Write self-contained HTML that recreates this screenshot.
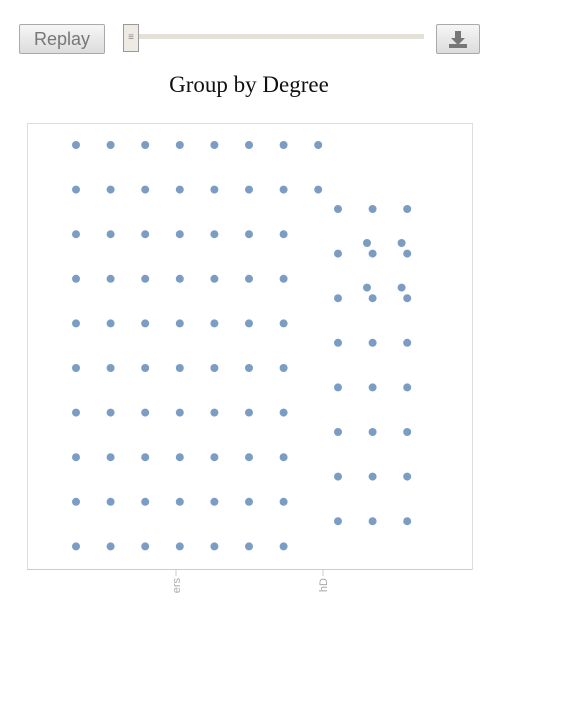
<!DOCTYPE html>
<html><head><meta charset="utf-8"><style>
body{margin:0;background:#fff;font-family:"Liberation Sans",sans-serif;}
#wrap{position:relative;width:566px;height:705px;}
.btn{position:absolute;border:1px solid #aaa;border-radius:2px;background:linear-gradient(#f6f6f6,#dcdcdc);color:#777;}
</style></head><body><div id="wrap">
<div class="btn" style="left:19px;top:24px;width:84px;height:28px;font-size:18px;line-height:28px;text-align:center;">Replay</div>
<div style="position:absolute;left:130px;top:34px;width:294px;height:5px;background:#e4e0da;"></div>
<div style="position:absolute;left:123px;top:24px;width:14px;height:26px;border:1px solid #999;background:#eeeae4;font-size:10px;color:#888;text-align:center;line-height:26px;">≡</div>
<div class="btn" style="left:436px;top:24px;width:42px;height:28px;">
<svg width="42" height="28"><path d="M18 6h6v7h4l-7 7-7-7h4z" fill="#777"/><rect x="12" y="19" width="18" height="4" fill="#777"/></svg></div>
<div style="position:absolute;left:0;width:498px;top:72px;text-align:center;font-family:'Liberation Serif',serif;font-size:23px;color:#111;">Group by Degree</div>
<svg id="chart" width="566" height="705" style="position:absolute;left:0;top:0"></svg>
</div>
<script>
const categories=["Masters","PhD"];
const counts=[72,28];
const tickLabels=["ers","hD"];
const svg=document.getElementById('chart');
const NS='http://www.w3.org/2000/svg';
function mk(t,a){const e=document.createElementNS(NS,t);for(const k in a)e.setAttribute(k,a[k]);svg.appendChild(e);return e;}
const frame=mk('rect',{x:27.5,y:123.5,width:445,height:446,fill:'none',stroke:'#ddd'});


const ax=mk('line',{x1:27,x2:472,y1:569.5,y2:569.5,stroke:'#ccc'});


const tickX=i=>176+i*147;
const step=34.6, rstep=44.6;
categories.forEach((c,g)=>{
  const t=mk('line',{x1:tickX(g),x2:tickX(g),y1:569,y2:576,stroke:'#ccc'});
  
  
  const lx=tickX(g)+4, ly=578;
  const tx=mk('text',{x:lx,y:ly,transform:`rotate(-90 ${lx} ${ly})`,'text-anchor':'end','font-size':11,fill:'#aaa','font-family':'Liberation Sans, sans-serif'});
  tx.textContent=tickLabels[g];
  
  
  const pts=[];
  if(g===0){
    let n=counts[0],r=0;
    while(n>0){const k=Math.min(n,r<2?8:7);for(let j=0;j<k;j++)pts.push([76+j*step,145+r*rstep]);n-=k;r++;}
  }else{
    let n=counts[1];const grid=Math.min(n,24);
    for(let i=0;i<grid;i++)pts.push([338+(i%3)*step,209+Math.floor(i/3)*rstep]);
    for(let i=0;i<n-grid;i++)pts.push([367+(i%2)*step,243+Math.floor(i/2)*rstep]);
  }
  pts.forEach(p=>{const d=mk('circle',{cx:p[0],cy:p[1],r:4,fill:'#7b9dc4'});
    
    });
});
</script></body></html>
